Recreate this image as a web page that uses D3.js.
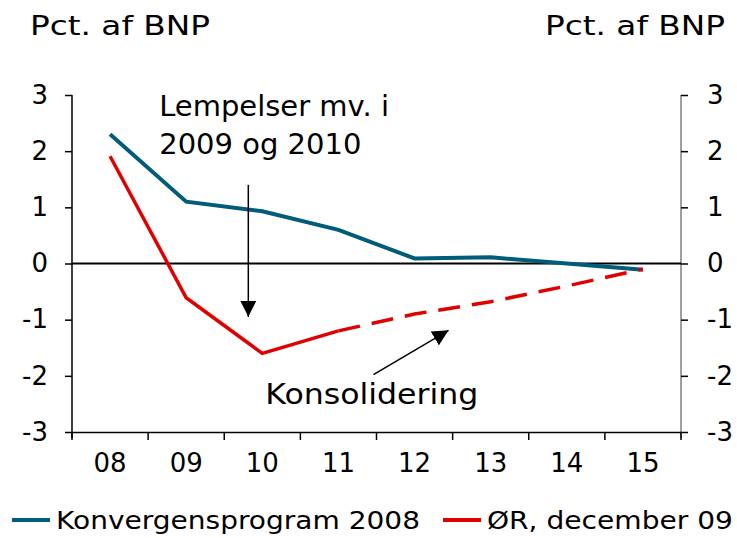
<!DOCTYPE html>
<html>
<head>
<meta charset="utf-8">
<script src="https://cdn.jsdelivr.net/npm/d3@7"></script>
<style>
  body { margin: 0; background: #fff; }
  text { font-family: "DejaVu Sans", Verdana, sans-serif; fill: #000; }
</style>
</head>
<body>
<div class="chart"></div>
<script>
// data
const years = ['08', '09', '10', '11', '12', '13', '14', '15']
const konvergens = [2.3, 1.1, 0.93, 0.6, 0.09, 0.11, 0.0, -0.11]
const orSolid = [1.91, -0.61, -1.6, -1.2, null, null, null, null]
const orDashed = [null, null, null, -1.2, -0.9, -0.68, -0.4, -0.1]
const yTicks = [-3, -2, -1, 0, 1, 2, 3]

const width = 737
const height = 538
const margin = { top: 95, right: 56, bottom: 106, left: 72 }
const innerWidth = width - margin.left - margin.right
const innerHeight = height - margin.top - margin.bottom

const teal = '#005c78'
const red = '#e00000'

const svg = d3.select('.chart')
  .append('svg')
  .attr('width', width)
  .attr('height', height)

const g = svg.append('g')
  .attr('transform', `translate(${margin.left},${margin.top})`)

const x = d3.scaleBand()
  .domain(years)
  .range([0, innerWidth])

const y = d3.scaleLinear()
  .domain([-3, 3])
  .range([innerHeight, 0])

const cx = d => x(d) + x.bandwidth() / 2

// left axis
g.append('g')
  .attr('class', 'axis axis--left')
  .call(d3.axisLeft(y).tickValues(yTicks).tickSize(7).tickSizeOuter(0).tickPadding(17).tickFormat(d => String(d)))

// right axis
g.append('g')
  .attr('class', 'axis axis--right')
  .attr('transform', `translate(${innerWidth},0)`)
  .call(d3.axisRight(y).tickValues(yTicks).tickSize(7).tickSizeOuter(0).tickPadding(19).tickFormat(d => String(d)))

// bottom axis with ticks at band edges
const xAxis = g.append('g')
  .attr('class', 'axis axis--x')
  .attr('transform', `translate(0,${innerHeight})`)
  .call(d3.axisBottom(x).tickSize(0).tickSizeOuter(0).tickPadding(22))

xAxis.selectAll('.edge')
  .data(d3.range(years.length + 1))
  .enter()
  .append('line')
  .attr('x1', i => i * x.step())
  .attr('x2', i => i * x.step())
  .attr('y1', 0)
  .attr('y2', 8)
  .attr('stroke', '#000')
  .attr('stroke-width', 1.5)

svg.selectAll('.axis .domain').attr('stroke-width', 1.5)
svg.selectAll('.axis .tick line').attr('stroke-width', 1.5)
svg.selectAll('.axis text').attr('font-size', 26)
svg.select('.axis--right .domain').attr('stroke', '#808080')
// vertical axes run a little past the bottom axis
svg.select('.axis--left .domain').attr('d', `M0,0V${innerHeight + 6}`)
svg.select('.axis--right .domain').attr('d', `M0,0V${innerHeight + 6}`)

// zero line
g.append('line')
  .attr('x1', 0)
  .attr('x2', innerWidth)
  .attr('y1', y(0))
  .attr('y2', y(0))
  .attr('stroke', '#000')
  .attr('stroke-width', 2)

const line = d3.line()
  .defined(d => d.v !== null)
  .x(d => cx(d.year))
  .y(d => y(d.v))

const toPts = arr => years.map((yr, i) => ({ year: yr, v: arr[i] }))

g.append('path')
  .datum(toPts(konvergens))
  .attr('d', line)
  .attr('fill', 'none')
  .attr('stroke', teal)
  .attr('stroke-width', 4)

g.append('path')
  .datum(toPts(orSolid))
  .attr('d', line)
  .attr('fill', 'none')
  .attr('stroke', red)
  .attr('stroke-width', 3.5)

g.append('path')
  .datum(toPts(orDashed))
  .attr('d', line)
  .attr('fill', 'none')
  .attr('stroke', red)
  .attr('stroke-width', 3.5)
  .attr('stroke-dasharray', '22,12')

// arrow marker
svg.append('defs')
  .append('marker')
  .attr('id', 'arrow')
  .attr('viewBox', '0 0 10 10')
  .attr('refX', 10)
  .attr('refY', 5)
  .attr('markerWidth', 16)
  .attr('markerHeight', 16)
  .attr('markerUnits', 'userSpaceOnUse')
  .attr('orient', 'auto')
  .append('path')
  .attr('d', 'M0,0L10,5L0,10Z')
  .attr('fill', '#000')

// annotation: Lempelser
g.append('line')
  .attr('x1', cx('10') - 14)
  .attr('x2', cx('10') - 14)
  .attr('y1', y(1.4))
  .attr('y2', y(-0.95))
  .attr('stroke', '#000')
  .attr('stroke-width', 1.5)
  .attr('marker-end', 'url(#arrow)')

const ann = g.append('text')
  .attr('font-size', 29)
ann.append('tspan').attr('x', cx('09') - 27).attr('y', y(2.62)).text('Lempelser mv. i')
ann.append('tspan').attr('x', cx('09') - 27).attr('y', y(1.95)).text('2009 og 2010')

// annotation: Konsolidering
g.append('line')
  .attr('x1', cx('11') + 35)
  .attr('x2', cx('12') + 34)
  .attr('y1', y(-1.98))
  .attr('y2', y(-1.19))
  .attr('stroke', '#000')
  .attr('stroke-width', 1.5)
  .attr('marker-end', 'url(#arrow)')

g.append('text')
  .attr('x', cx('10') + 3)
  .attr('y', y(-2.5))
  .attr('font-size', 29)
  .attr('textLength', 213)
  .attr('lengthAdjust', 'spacingAndGlyphs')
  .text('Konsolidering')

// unit labels
svg.append('text')
  .attr('x', 30)
  .attr('y', 35)
  .attr('font-size', 26)
  .attr('textLength', 180)
  .attr('lengthAdjust', 'spacingAndGlyphs')
  .text('Pct. af BNP')

svg.append('text')
  .attr('x', 545)
  .attr('y', 35)
  .attr('font-size', 26)
  .attr('textLength', 180)
  .attr('lengthAdjust', 'spacingAndGlyphs')
  .text('Pct. af BNP')

// legend
const legendItems = [
  { label: 'Konvergensprogram 2008', color: teal, x: 12, len: 364 },
  { label: 'ØR, december 09', color: red, x: 443, len: 246 }
]

const legend = svg.selectAll('.legend')
  .data(legendItems)
  .enter()
  .append('g')
  .attr('class', 'legend')
  .attr('transform', d => `translate(${d.x},520)`)

legend.append('line')
  .attr('x1', 0)
  .attr('x2', 38)
  .attr('stroke', d => d.color)
  .attr('stroke-width', 4)

legend.append('text')
  .attr('x', 44)
  .attr('y', 9)
  .attr('font-size', 25)
  .attr('textLength', d => d.len)
  .attr('lengthAdjust', 'spacingAndGlyphs')
  .text(d => d.label)
</script>
</body>
</html>
